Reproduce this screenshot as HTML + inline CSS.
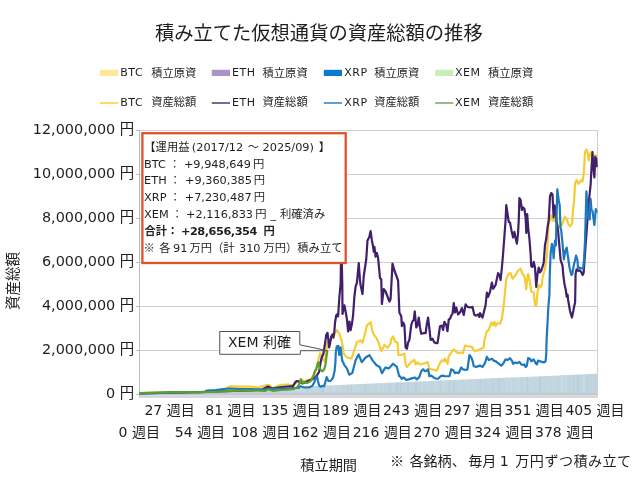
<!DOCTYPE html>
<html><head><meta charset="utf-8">
<style>
html,body{margin:0;padding:0;background:#fff;width:640px;height:480px;overflow:hidden}
svg{display:block;will-change:transform}
text{font-family:"DejaVu Sans","Noto Sans CJK JP",sans-serif;fill:#1e1e1e}
.j{font-family:"Noto Sans CJK JP",sans-serif}
</style></head><body>
<svg width="640" height="480" viewBox="0 0 640 480">
<rect width="640" height="480" fill="#fff"/>
<!-- title -->
<text x="318.8" y="39.7" font-size="19.3" text-anchor="middle" class="j">積み立てた仮想通貨の資産総額の推移</text>
<!-- legend -->
<g font-size="11" letter-spacing="0.55">
<rect x="100" y="69.8" width="18.2" height="6.2" fill="#FFE699"/>
<text x="120.2" y="76.4">BTC</text><text class="j" x="151.2" y="76.6" font-size="11.3" letter-spacing="0">積立原資</text>
<line x1="100" y1="103" x2="118.2" y2="103" stroke="#FFD850" stroke-width="1.8"/>
<text x="120.2" y="106.1">BTC</text><text class="j" x="151.2" y="106.3" font-size="11.3" letter-spacing="0">資産総額</text>
<rect x="211.8" y="69.8" width="18.2" height="6.2" fill="#A993C8"/>
<text x="232.1" y="76.4">ETH</text><text class="j" x="262.5" y="76.6" font-size="11.3" letter-spacing="0">積立原資</text>
<line x1="211.8" y1="103" x2="230.0" y2="103" stroke="#6B5893" stroke-width="1.8"/>
<text x="232.1" y="106.1">ETH</text><text class="j" x="262.5" y="106.3" font-size="11.3" letter-spacing="0">資産総額</text>
<rect x="323.8" y="69.8" width="18.2" height="6.2" fill="#0B7CCB"/>
<text x="344.2" y="76.4">XRP</text><text class="j" x="374.2" y="76.6" font-size="11.3" letter-spacing="0">積立原資</text>
<line x1="323.8" y1="103" x2="342.0" y2="103" stroke="#4F95CC" stroke-width="1.8"/>
<text x="344.2" y="106.1">XRP</text><text class="j" x="374.2" y="106.3" font-size="11.3" letter-spacing="0">資産総額</text>
<rect x="435.2" y="69.8" width="18.2" height="6.2" fill="#C8F0B4"/>
<text x="455.0" y="76.4">XEM</text><text class="j" x="488.0" y="76.6" font-size="11.3" letter-spacing="0">積立原資</text>
<line x1="435.2" y1="103" x2="453.4" y2="103" stroke="#8DB574" stroke-width="1.8"/>
<text x="455.0" y="106.1">XEM</text><text class="j" x="488.0" y="106.3" font-size="11.3" letter-spacing="0">資産総額</text>
</g>
<!-- gridlines -->
<g stroke="#D0D0D0" stroke-width="1">
<line x1="139.5" y1="130.5" x2="598" y2="130.5"/>
<line x1="139.5" y1="174.5" x2="598" y2="174.5"/>
<line x1="139.5" y1="218.5" x2="598" y2="218.5"/>
<line x1="139.5" y1="262.5" x2="598" y2="262.5"/>
<line x1="139.5" y1="306.5" x2="598" y2="306.5"/>
<line x1="139.5" y1="350.5" x2="598" y2="350.5"/>
<line x1="597.5" y1="130" x2="597.5" y2="397"/>
</g>
<!-- y axis -->
<g stroke="#BDBDC6" stroke-width="1">
<line x1="139.5" y1="130" x2="139.5" y2="398"/>
<line x1="136" y1="130.5" x2="139.5" y2="130.5"/>
<line x1="136" y1="174.5" x2="139.5" y2="174.5"/>
<line x1="136" y1="218.5" x2="139.5" y2="218.5"/>
<line x1="136" y1="262.5" x2="139.5" y2="262.5"/>
<line x1="136" y1="306.5" x2="139.5" y2="306.5"/>
<line x1="136" y1="350.5" x2="139.5" y2="350.5"/>
<line x1="136" y1="394.5" x2="139.5" y2="394.5"/>
</g>
<g font-size="14.4" text-anchor="end">
<text x="134.2" y="134.3">12,000,000 <tspan class="j">円</tspan></text>
<text x="134.2" y="178.2">10,000,000 <tspan class="j">円</tspan></text>
<text x="134.2" y="222.2">8,000,000 <tspan class="j">円</tspan></text>
<text x="134.2" y="266.1">6,000,000 <tspan class="j">円</tspan></text>
<text x="134.2" y="310.1">4,000,000 <tspan class="j">円</tspan></text>
<text x="134.2" y="354">2,000,000 <tspan class="j">円</tspan></text>
<text x="134.2" y="398">0 <tspan class="j">円</tspan></text>
</g>
<text class="j" font-size="14.5" transform="translate(18.2,281) rotate(-90)" text-anchor="middle">資産総額</text>

<!-- principal area -->
<g id="area">
<defs><clipPath id="ac"><polygon points="139.5,393.8 597.5,373.8 597.5,393 139.5,393"/></clipPath></defs>
<polygon points="139.5,393.8 597.5,373.8 597.5,393 139.5,393" fill="#C3D6DF"/>
<g clip-path="url(#ac)"><rect x="141.0" y="372" width="1.5" height="21" fill="#BBD0DC"/><rect x="146.0" y="372" width="1" height="21" fill="#B7CDDA"/><rect x="153.1" y="372" width="1" height="21" fill="#CADBE2"/><rect x="159.0" y="372" width="1" height="21" fill="#B7CDDA"/><rect x="162.4" y="372" width="2" height="21" fill="#B7CDDA"/><rect x="166.6" y="372" width="2" height="21" fill="#B7CDDA"/><rect x="173.8" y="372" width="1" height="21" fill="#BBD0DC"/><rect x="179.9" y="372" width="1" height="21" fill="#C7D9E1"/><rect x="183.2" y="372" width="1" height="21" fill="#B7CDDA"/><rect x="188.9" y="372" width="1" height="21" fill="#CADBE2"/><rect x="194.0" y="372" width="1" height="21" fill="#CADBE2"/><rect x="199.8" y="372" width="1" height="21" fill="#B7CDDA"/><rect x="205.8" y="372" width="1" height="21" fill="#CADBE2"/><rect x="209.2" y="372" width="1" height="21" fill="#B7CDDA"/><rect x="215.3" y="372" width="2" height="21" fill="#C7D9E1"/><rect x="222.2" y="372" width="2" height="21" fill="#C7D9E1"/><rect x="227.0" y="372" width="1" height="21" fill="#BBD0DC"/><rect x="233.5" y="372" width="1" height="21" fill="#B7CDDA"/><rect x="239.4" y="372" width="2" height="21" fill="#CADBE2"/><rect x="246.0" y="372" width="1.5" height="21" fill="#B7CDDA"/><rect x="249.6" y="372" width="2" height="21" fill="#BBD0DC"/><rect x="256.4" y="372" width="1" height="21" fill="#C7D9E1"/><rect x="261.5" y="372" width="1" height="21" fill="#CADBE2"/><rect x="266.2" y="372" width="1.5" height="21" fill="#C7D9E1"/><rect x="272.1" y="372" width="2" height="21" fill="#B7CDDA"/><rect x="279.3" y="372" width="1.5" height="21" fill="#C7D9E1"/><rect x="285.8" y="372" width="1" height="21" fill="#B7CDDA"/><rect x="292.5" y="372" width="1.5" height="21" fill="#C7D9E1"/><rect x="296.9" y="372" width="2" height="21" fill="#CADBE2"/><rect x="300.0" y="372" width="2" height="21" fill="#CADBE2"/><rect x="303.8" y="372" width="1" height="21" fill="#C7D9E1"/><rect x="307.1" y="372" width="1.5" height="21" fill="#BBD0DC"/><rect x="313.8" y="372" width="2" height="21" fill="#C7D9E1"/><rect x="321.4" y="372" width="2" height="21" fill="#B7CDDA"/><rect x="325.2" y="372" width="2" height="21" fill="#CADBE2"/><rect x="332.7" y="372" width="2" height="21" fill="#CADBE2"/><rect x="339.2" y="372" width="1.5" height="21" fill="#C7D9E1"/><rect x="347.0" y="372" width="1" height="21" fill="#B7CDDA"/><rect x="350.9" y="372" width="1" height="21" fill="#BBD0DC"/><rect x="353.9" y="372" width="1" height="21" fill="#CADBE2"/><rect x="358.3" y="372" width="1" height="21" fill="#C7D9E1"/><rect x="364.0" y="372" width="1.5" height="21" fill="#BBD0DC"/><rect x="370.5" y="372" width="1" height="21" fill="#C7D9E1"/><rect x="378.0" y="372" width="2" height="21" fill="#C7D9E1"/><rect x="383.0" y="372" width="1" height="21" fill="#C7D9E1"/><rect x="389.1" y="372" width="1" height="21" fill="#BBD0DC"/><rect x="392.5" y="372" width="1" height="21" fill="#C7D9E1"/><rect x="396.3" y="372" width="1.5" height="21" fill="#B7CDDA"/><rect x="399.8" y="372" width="1" height="21" fill="#B7CDDA"/><rect x="407.5" y="372" width="1" height="21" fill="#B7CDDA"/><rect x="414.9" y="372" width="2" height="21" fill="#BBD0DC"/><rect x="421.1" y="372" width="1.5" height="21" fill="#CADBE2"/><rect x="426.4" y="372" width="1" height="21" fill="#C7D9E1"/><rect x="434.4" y="372" width="2" height="21" fill="#C7D9E1"/><rect x="439.8" y="372" width="1" height="21" fill="#BBD0DC"/><rect x="443.3" y="372" width="1.5" height="21" fill="#CADBE2"/><rect x="448.7" y="372" width="1" height="21" fill="#B7CDDA"/><rect x="452.8" y="372" width="1.5" height="21" fill="#BBD0DC"/><rect x="459.2" y="372" width="1" height="21" fill="#CADBE2"/><rect x="467.1" y="372" width="1" height="21" fill="#CADBE2"/><rect x="472.7" y="372" width="1" height="21" fill="#CADBE2"/><rect x="479.6" y="372" width="1.5" height="21" fill="#BBD0DC"/><rect x="485.6" y="372" width="1" height="21" fill="#BBD0DC"/><rect x="492.7" y="372" width="1" height="21" fill="#BBD0DC"/><rect x="498.3" y="372" width="1.5" height="21" fill="#B7CDDA"/><rect x="506.2" y="372" width="1.5" height="21" fill="#C7D9E1"/><rect x="510.5" y="372" width="1.5" height="21" fill="#C7D9E1"/><rect x="517.6" y="372" width="1.5" height="21" fill="#CADBE2"/><rect x="521.0" y="372" width="1" height="21" fill="#BBD0DC"/><rect x="526.3" y="372" width="1.5" height="21" fill="#BBD0DC"/><rect x="531.8" y="372" width="1" height="21" fill="#C7D9E1"/><rect x="539.3" y="372" width="1.5" height="21" fill="#B7CDDA"/><rect x="546.5" y="372" width="1" height="21" fill="#C7D9E1"/><rect x="553.4" y="372" width="1" height="21" fill="#C7D9E1"/><rect x="560.8" y="372" width="2" height="21" fill="#CADBE2"/><rect x="564.3" y="372" width="2" height="21" fill="#C7D9E1"/><rect x="569.3" y="372" width="1" height="21" fill="#BBD0DC"/><rect x="573.1" y="372" width="1" height="21" fill="#B7CDDA"/><rect x="576.9" y="372" width="2" height="21" fill="#BBD0DC"/><rect x="582.9" y="372" width="2" height="21" fill="#CADBE2"/><rect x="586.7" y="372" width="1" height="21" fill="#B7CDDA"/><rect x="589.8" y="372" width="1" height="21" fill="#BBD0DC"/><rect x="595.0" y="372" width="1" height="21" fill="#BBD0DC"/></g>
<rect x="139.5" y="392.8" width="458" height="2.7" fill="#C4C8D0"/>
<rect x="139.5" y="395.5" width="458" height="2.4" fill="#D8D3DB"/>
</g>
<!-- lines -->
<g id="lines" fill="none" stroke-width="2.2" stroke-linejoin="round">
<polyline stroke="#F5CC35" points="139.5,393 160,392.5 200,392.2 224,390.5 227.5,387.5 229.7,386.3 239,386.6 246.9,386.6 250,386.5 257.8,387.7 265.6,385.3 268.75,384.9 272.7,388 281.25,384.9 289,384.5 293,385.3 296,383 300,380 305,381 310,379.5 312.5,376.7 316,370 320,353.3 321.5,356 323.3,360 325,361 326.5,350 327.5,343 330,340 333,338 335.6,332 336.9,330 338.75,333 339.4,333.4 340,336.25 341.25,339 342.5,345 343.75,353.6 346.9,357.5 351.6,358.3 353.9,351.25 357,341.9 358.75,341.5 360.2,340.3 362.5,342.75 365,334 366.9,325.25 368.75,324 370.6,322.1 372.5,331.5 375,336.5 376.25,337.75 377.5,340.25 378.9,343.4 381.25,351.25 384.4,345 387.5,348 390.6,343.4 391.25,339 393.1,336.5 395,341.5 397.5,342.75 398.4,355 400,355 402.5,354.4 404.4,353.75 405.6,364.4 406.9,366.9 408.75,365 411.25,361.9 414.4,360 415.6,364.4 417.5,362.5 420,364.4 423.1,363.75 425,363.1 427.5,361.9 429.4,368.75 431.9,369.4 434.4,370 436.9,370.6 439.4,364.4 440.6,361.9 442.5,360 443.75,361.25 445,358.75 447.5,363.75 448.75,356.25 451.25,352.5 453.75,349.4 455.6,351.25 458.1,353.1 461.25,352.5 463.1,353.1 465,345.6 468.1,346.25 471.9,346.9 474.4,351.25 476.9,350.6 480,349.4 483.75,347.5 484.4,340 486.9,331.25 488.75,330 491.25,322.5 493.1,325 494.4,321.9 495.6,326.25 497.5,323.1 500,323.75 501.9,318.75 503.75,305 505,292.5 506.25,278.75 508.75,273.75 510.6,273.1 512.5,278.75 515.6,275 517.5,271.25 520.6,268.75 522.5,273.75 524.4,276.25 525,280 526.25,289.4 527.3,279 528.1,274 529.4,279 531.25,291.25 533.75,292.5 535,305 536.25,305.6 537.5,292.5 538.75,285 540,287.5 541.9,285 542.5,277.5 545,268.75 546.9,255 548.1,235 548.5,224.75 550.75,215 552.6,221 553.75,218.75 556,222 558,226 560,227 562,224.75 565,216.5 566.5,218.75 568.75,224.75 570.25,226.25 572.1,223.25 572.9,211.25 574,201.5 575.1,183.75 576.5,180 578.4,183.75 579.4,182.6 581.25,180.3 582.6,181.25 584,171 585,152.2 586.4,149.4 587.8,153.1 588.75,160.6 590.1,154 591.5,152.2 593.5,158 595.3,155 597,156"/>
<polyline stroke="#40206A" points="139.5,393.5 200,392 250,390.5 262,389.5 268,386.5 271.9,388.5 279.7,387.3 287.5,386.5 293,386.1 295.3,382.2 296.9,381 299.2,381.8 302.5,383.5 308,381 312.5,379.2 316.7,375.8 319.2,371.7 320.4,363.3 321.7,357.5 323.3,354.2 325,343.75 326.25,335 327.5,332.8 328.4,340 329.1,347.5 330,343.75 331.25,336.25 332.5,334.4 333.4,337.5 334.4,331.25 335,322.75 336.25,315.25 337.5,314 338.1,316.5 339.4,296.5 340.6,284 341.3,240 342.3,284 342.5,314 344.4,305.25 345.6,311.5 346.9,319 348.1,331.5 349.4,321.5 350.6,330.25 351.9,324 353.1,315.25 354.4,296.5 355.6,286.5 356.9,283 358.75,263 360,280.5 360.6,285.25 362.5,294 363.75,276 366.25,259.25 367.5,240.5 369.4,236.75 370.6,231.1 371.9,240.5 373.1,246.75 373.75,251.75 374.4,246.75 375.6,256.75 376.9,253 378.1,258 380,278 381.25,279.25 381.9,304 383.75,289 385.6,291.5 387.5,296.5 389.4,301.5 390.6,299 392.5,263.6 394.4,270.5 396.25,275.5 398.1,280.5 399.4,312.75 400,313.75 401.25,316.25 401.9,326.25 403.1,322.5 404.4,325 405.6,347.5 406.9,348.75 408.1,342.5 409.4,340 411.25,325 412.5,321.25 413.75,320 414.75,311.25 416.25,327.5 417.5,325 418.75,317.5 420,327.5 421.25,333.75 423.75,333.1 425.6,333.1 426.9,323.75 428.1,317.5 429.4,328.75 430.6,340 432.5,338.75 434.4,342.5 436.25,343.1 437.5,343.1 438.75,335 440,326.25 441.9,325.6 443.1,330 444.4,321.9 446.25,325 447.5,331.25 448.75,319.4 450,318.75 451.25,315.6 452.5,313.75 453.75,303.1 455,312.5 456.25,307.5 458.1,314.4 460,312.5 461.9,308.1 463.75,315 465.6,304.4 467.5,306.9 470.6,307.5 472.5,306.9 474.4,315 476.25,315.6 478.1,314.4 479.4,316.9 480,313.1 482.5,317.5 484.4,310 485.6,305 486.9,292.5 488.1,296.9 490,291.9 491.9,282.5 493.1,288.75 494.4,286.9 495.6,285 496.9,278.75 498.1,273.1 499.4,275 500.6,280 501.9,267.5 503.1,253.75 504.4,236.25 505.6,220 506.25,205 507.5,213.75 508.75,222 510,222.5 511.25,229.4 513.1,237.5 514.4,231.9 515.6,238.1 516.9,243.75 518.1,232.5 518.75,220 519.4,198.1 520.6,200 521.9,210 523.1,207.5 524.4,208.75 525.6,217.5 526.3,233 527.2,214 528.2,228 529.4,238.75 530.6,253.75 531.25,266.25 532.5,266.9 533.75,261.9 535,267.5 536.25,287 537.5,274.4 538.75,267.5 540,272.5 541.25,270.6 542.5,266.9 543.75,262.5 545,245 546.25,238.75 547.5,227.5 548.75,220 550,196.25 551.25,193.1 552.5,194.4 553.6,217.5 554.5,205.3 555.5,208.1 556.4,220.3 558,230 560.6,260 562.5,265.6 563.4,276 564.4,283.4 565.8,290 566.7,296.6 567.6,294.7 568.1,299.7 570,311 571.9,317.5 573.3,311 574.2,306.25 575.1,302.5 575.6,274.1 576.5,269.4 578.4,270.8 579.8,270.3 581.25,272.2 582.6,275 583.6,273.1 586,240 587.5,219 589,200 590.6,185 591.5,168 592.5,152.2 593.4,168 594.4,177.5 595.3,156.9 596.25,158.75 596.7,167.2"/>
<polyline stroke="#1E78BE" points="139.5,393.5 200,392.2 205,392 207,390.5 215.6,390.1 223.4,389 229.7,388.5 239,389 250,389.2 261.7,389.6 269.5,388.8 281.25,388.5 293,388 298.7,387.8 300,386.25 305,387.5 310,387.1 312.5,385.8 314.2,382.5 315.8,377.5 317.1,376.7 317.9,380.8 319.2,385.8 320.8,386.7 322.5,385.8 324.2,386.25 325.4,381.7 326.7,377.1 328.3,380.8 330,381.25 332.1,379.2 333.3,376.7 334.6,370.8 335.4,362.5 335.8,352.5 336.7,346.6 338.3,345.8 339.2,355 340.6,347.3 342.2,360.6 344.5,365.3 346.9,368.4 349.2,374.7 352.3,373.1 355.5,360.6 358.6,354.4 361.7,362.2 365.6,357.5 369.5,355.2 372.7,360.6 376.6,365.3 379.7,366.9 382,373.1 385.2,367.7 389,368.4 393,363.75 396.9,366.9 399.2,376.25 400,376.25 401.9,378.75 403.75,377.5 406.25,380 408.75,379.4 412.5,378.1 415,377.5 416.9,379.4 419.4,376.9 421.25,371.25 423.1,369.4 425,371.25 426.9,370.6 428.1,369.4 429.4,376.25 431.25,375.6 433.75,377.5 436.25,378.75 438.1,378.75 440.6,376.25 442.5,375.6 445,376.25 449.4,376.25 451.25,369.4 453.1,370 455,373.1 456.9,372.5 458.75,373.1 461.25,367.5 463.1,369.4 465.6,370 467.5,369.4 469.4,355 471.25,357.5 472.5,360.6 473.75,366.25 476.25,366.9 480,365.6 482.5,366.9 485,363.1 486.9,356.9 488.75,360 491.9,358.75 493.75,360.6 495.6,361.25 498.1,363.1 501.25,365.6 503.1,363.75 505.6,359.4 507.5,360 510,358.1 511.9,360.6 513.1,363.75 515,362.5 517.5,363.1 519.4,361.9 521.25,364.4 523.1,365 524.4,364.4 525.6,366.9 526.9,365.6 528.1,358.1 530,358.75 531.25,361.25 533.75,359.4 535.6,363.1 536.9,364.4 538.1,360.6 540,361.25 541.9,361.9 543.75,362.5 545.6,361.25 546.25,353.75 546.6,340 548.4,306.25 549.4,295 549.8,274.1 550.6,253.75 551.9,243.75 553.1,250 553.6,258.4 555,240.6 555.9,245.3 556.4,221.9 557.3,189.4 558.75,200.6 559.7,205.3 560.5,228 561.1,229.4 562.5,243.4 563.9,259.4 565.3,250.9 566.7,247.6 568.1,257.5 569.5,267.5 571.4,275 572.3,274.1 573.75,265.6 575.1,260 576.1,255.6 577.5,260.3 578,268.4 579.4,267.5 581.25,268.4 583.1,268.4 584,260 585,241.6 586.4,191.25 587.3,206.25 588.3,218.4 589.7,219.4 590.6,198.75 591.5,210 592.5,211 593.4,217.5 594.4,225 595.8,209 596.7,212.8"/>
<polyline stroke="#5E9E2E" points="139.5,393.2 162,392.4 185,392 200,392.4 207,392 217.2,392 223.4,391.3 231.25,390.9 250,390.4 265.6,390.8 268,389.2 272.7,390.8 281.25,390 293,389.2 297.7,386.9 299.7,383 301,379.2 302.5,383 304.2,382 306.7,383 308.3,382.5 310.8,380.8 313.3,376.7 315,370.8 316.25,369.2 317.5,364.2 318.3,362.1 319.2,366.7 320.8,370 322.5,371.25 324.2,369.2 325.4,365 326.25,358.3 327.1,352.5 327.5,350.5"/>
</g>

<!-- x labels -->
<g font-size="14" text-anchor="middle">
<text x="169.6" y="415">27 <tspan class="j">週目</tspan></text>
<text x="230.4" y="415">81 <tspan class="j">週目</tspan></text>
<text x="291.2" y="415">135 <tspan class="j">週目</tspan></text>
<text x="351.9" y="415">189 <tspan class="j">週目</tspan></text>
<text x="412.7" y="415">243 <tspan class="j">週目</tspan></text>
<text x="473.5" y="415">297 <tspan class="j">週目</tspan></text>
<text x="534.2" y="415">351 <tspan class="j">週目</tspan></text>
<text x="595" y="415">405 <tspan class="j">週目</tspan></text>
<text x="139.25" y="436.5">0 <tspan class="j">週目</tspan></text>
<text x="200" y="436.5">54 <tspan class="j">週目</tspan></text>
<text x="260.8" y="436.5">108 <tspan class="j">週目</tspan></text>
<text x="321.5" y="436.5">162 <tspan class="j">週目</tspan></text>
<text x="382.3" y="436.5">216 <tspan class="j">週目</tspan></text>
<text x="443.1" y="436.5">270 <tspan class="j">週目</tspan></text>
<text x="503.8" y="436.5">324 <tspan class="j">週目</tspan></text>
<text x="564.6" y="436.5">378 <tspan class="j">週目</tspan></text>
</g>
<text class="j" x="300.3" y="470.3" font-size="14.2">積立期間</text>
<g font-size="14.1"><text class="j" x="390" y="466">※</text><text class="j" x="409.4" y="466">各銘柄、</text><text class="j" x="468.2" y="466">毎月</text><text x="499.8" y="466">1</text><text class="j" x="515.3" y="466" letter-spacing="0.45">万円ずつ積み立て</text></g>

<!-- text box -->
<rect x="142.4" y="133.2" width="203.3" height="129.8" fill="#fff" stroke="#E0532A" stroke-width="2.3"/>
<g font-size="11.3">
<text class="j" x="144.3" y="150.8">【運用益</text>
<text x="191.8" y="150.8">(2017/12</text>
<text class="j" x="247.75" y="150.8">～</text>
<text x="262.6" y="150.8">2025/09)</text>
<text class="j" x="318.8" y="150.8">】</text>
<text x="144.1" y="167.5">BTC</text>
<text class="j" x="169.1" y="167.5">：</text>
<text x="183.9" y="167.5">+9,948,649</text>
<text class="j" x="252.9" y="167.5">円</text>
<text x="144.1" y="184.1">ETH</text>
<text class="j" x="169.5" y="184.1">：</text>
<text x="185.0" y="184.1">+9,360,385</text>
<text class="j" x="253.8" y="184.1">円</text>
<text x="144.1" y="201.2">XRP</text>
<text class="j" x="169.5" y="201.2">：</text>
<text x="184.7" y="201.2">+7,230,487</text>
<text class="j" x="253.8" y="201.2">円</text>
<text x="144.1" y="217.9">XEM</text>
<text class="j" x="171.5" y="217.9">：</text>
<text x="186.1" y="217.9">+2,116,833</text>
<text class="j" x="255.3" y="217.9">円</text>
<text x="270.6" y="217.9">_</text>
<text class="j" x="280" y="217.9">利確済み</text>
<text class="j" x="144.4" y="234.7" font-weight="bold">合計：</text>
<text x="180.9" y="234.7" font-weight="bold" letter-spacing="-0.45">+28,656,354</text>
<text class="j" x="263.5" y="234.7" font-weight="bold">円</text>
<text class="j" x="143.4" y="251.5">※</text>
<text class="j" x="159.2" y="251.5">各</text>
<text x="173" y="251.5">91</text>
<text class="j" x="189.4" y="251.5">万円</text>
<text class="j" x="212" y="251.5">（計</text>
<text x="239" y="251.5">310</text>
<text class="j" x="263.4" y="251.5">万円）積み立て</text>
</g>

<!-- callout -->
<path d="M219.75 331.5 H299.8 V344.8 L327.3 350.7 H300.3 V354.3 H219.75 Z" fill="#fff" stroke="#505050" stroke-width="1"/>
<text x="228" y="347" font-size="14">XEM <tspan class="j">利確</tspan></text>
</svg>
</body></html>
